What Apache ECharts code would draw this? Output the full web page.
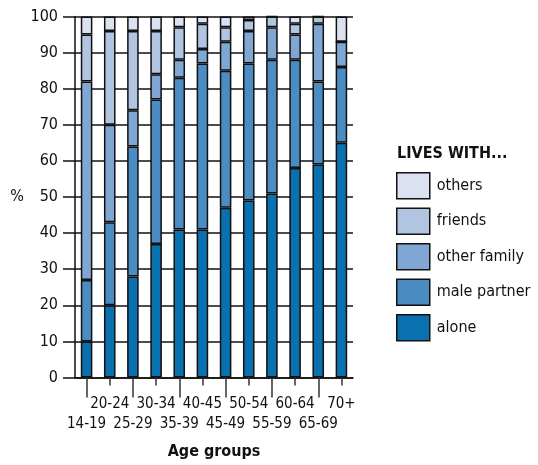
<!DOCTYPE html>
<html>
<head>
<meta charset="utf-8">
<script src="https://cdn.jsdelivr.net/npm/echarts@6/dist/echarts.min.js"></script>
<style>html,body{margin:0;padding:0;background:#fff}#c{width:538px;height:465px}</style>
</head>
<body>
<div id="c"></div>
<script>
var categories = ['14-19','20-24','25-29','30-34','35-39','40-45','45-49','50-54','55-59','60-64','65-69','70+'];
var alone       = [10,20,28,37,41,41,47,49,51,58,59,65];
var malePartner = [17,23,36,40,42,46,38,38,37,30,23,21];
var otherFamily = [55,27,10, 7, 5, 4, 8, 9, 9, 7,16, 7];
var friends     = [13,26,22,12, 9, 7, 4, 3, 3, 3, 2, 0];
var others      = [ 5, 4, 4, 4, 3, 2, 3, 1, 0, 2, 0, 7];
var yTicks = [0,10,20,30,40,50,60,70,80,90,100];

var FONT = "'Liberation Sans Narrow','DejaVu Sans Condensed',sans-serif";
var colors = {
  alone: '#0a71b0',
  male: '#4b8cc3',
  fam: '#80a7d3',
  friends: '#b1c5e1',
  others: '#dbe1f0'
};
function mk(name, data, color) {
  return {
    name: name, type: 'bar', stack: 's', data: data, barWidth: '50%',
    itemStyle: { color: color, borderColor: '#111', borderWidth: 1.5 },
    emphasis: { disabled: true }
  };
}
var chart = echarts.init(document.getElementById('c'), null, { renderer: 'canvas' });
chart.setOption({
  animation: false,
  textStyle: { fontFamily: FONT },
  title: {
    text: 'LIVES WITH...', left: 397, top: 146, padding: 0,
    textStyle: { fontFamily: FONT, fontWeight: 'bold', fontSize: 16, color: '#111' }
  },
  legend: {
    orient: 'vertical', left: 396, top: 172, padding: 0,
    itemWidth: 33, itemHeight: 26, itemGap: 8,
    icon: 'rect',
    data: ['others', 'friends', 'other family', 'male partner', 'alone'],
    itemStyle: { borderColor: '#111', borderWidth: 1.5 },
    textStyle: { fontFamily: FONT, fontSize: 16, color: '#111', padding: [0, 0, 0, 2] }
  },
  grid: { left: 75, right: 185, top: 16.5, bottom: 87.5, containLabel: false },
  xAxis: [{
    type: 'category', data: categories,
    name: 'Age groups', nameLocation: 'middle', nameGap: 66,
    nameTextStyle: { fontFamily: FONT, fontWeight: 'bold', fontSize: 16, color: '#111' },
    axisLine: { show: true, lineStyle: { color: '#111', width: 1.5 } },
    axisTick: { show: true, alignWithLabel: true, length: 20, interval: function (i) { return i % 2 === 0; }, lineStyle: { color: '#333', width: 1.5 } },
    axisLabel: {
      interval: 0, margin: 17, fontFamily: FONT, fontSize: 15, color: '#111', lineHeight: 20,
      formatter: function (v, i) { return i % 2 === 0 ? '\n' + v : v; }
    }
  }, {
    type: 'category', data: categories, position: 'bottom',
    axisLine: { show: false },
    axisTick: { show: true, alignWithLabel: true, length: 8, interval: function (i) { return i % 2 === 1; }, lineStyle: { color: '#333', width: 1.5 } },
    axisLabel: { show: false }
  }],
  yAxis: {
    type: 'value', min: 0, max: 100, interval: 10,
    name: '%', nameLocation: 'middle', nameGap: 51, nameRotate: 0,
    nameTextStyle: { fontFamily: FONT, fontSize: 16, color: '#111' },
    axisLine: { show: true, lineStyle: { color: '#111', width: 1.5 } },
    axisTick: { show: true, length: 12, lineStyle: { color: '#111', width: 1.5 } },
    axisLabel: {
      margin: 17, fontFamily: FONT, fontSize: 16, color: '#111',
      formatter: function (v) { return yTicks.indexOf(v) >= 0 ? String(v) : ''; }
    },
    splitLine: { show: true, lineStyle: { color: '#111', width: 1.5 } }
  },
  series: [
    mk('alone', alone, colors.alone),
    mk('male partner', malePartner, colors.male),
    mk('other family', otherFamily, colors.fam),
    mk('friends', friends, colors.friends),
    mk('others', others, colors.others)
  ]
});
</script>
</body>
</html>
